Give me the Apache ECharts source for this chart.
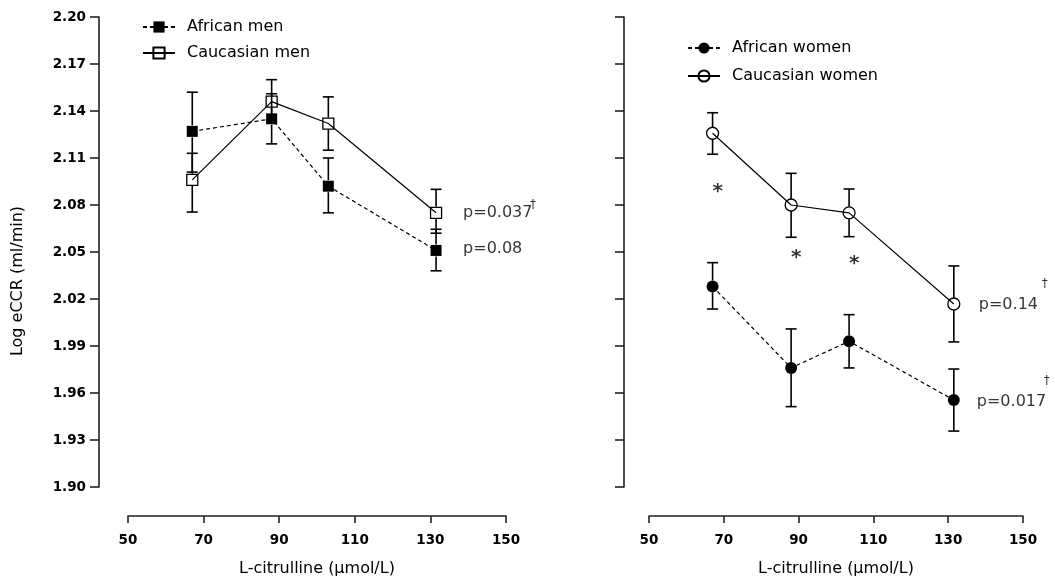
<!DOCTYPE html>
<html>
<head>
<meta charset="utf-8">
<script src="https://cdn.jsdelivr.net/npm/echarts@6/dist/echarts.min.js"></script>
<style>
html,body{margin:0;padding:0;background:#fff;}
#chart{width:1055px;height:579px;}
</style>
</head>
<body>
<div id="chart"></div>
<script>
// ---- data ----
var xTicks = [50, 70, 90, 110, 130, 150];
var yTicks = [1.90, 1.93, 1.96, 1.99, 2.02, 2.05, 2.08, 2.11, 2.14, 2.17, 2.20];

var menX = [67, 88, 103, 131.5];
var africanMenMean = [2.127, 2.135, 2.092, 2.051];
var africanMenLow  = [2.101, 2.119, 2.075, 2.038];
var africanMenHigh = [2.152, 2.151, 2.110, 2.0645];
var caucMenMean = [2.096, 2.146, 2.132, 2.075];
var caucMenLow  = [2.0755, 2.133, 2.115, 2.062];
var caucMenHigh = [2.113, 2.160, 2.149, 2.090];

var womenX = [67, 88, 103.5, 131.5];
var africanWomenMean = [2.028, 1.976, 1.993, 1.9555];
var africanWomenLow  = [2.0136, 1.9513, 1.976, 1.9357];
var africanWomenHigh = [2.0432, 2.0009, 2.010, 1.9753];
var caucWomenMean = [2.1258, 2.080, 2.075, 2.0168];
var caucWomenLow  = [2.1124, 2.0594, 2.0598, 1.9926];
var caucWomenHigh = [2.1389, 2.1002, 2.0902, 2.0411];

var sigX = [67, 88, 103.5];
var sigY = [2.091, 2.049, 2.045];

var pMen = ['p=0.037', 'p=0.08'];
var pWomen = ['p=0.14', 'p=0.017'];

// ---- build ----
var FONT = 'DejaVu Sans';
var BLACK = '#000';

function zip(xs, ys) { return xs.map(function (x, i) { return [x, ys[i]]; }); }
function zip4(xs, m, lo, hi) { return xs.map(function (x, i) { return [x, m[i], lo[i], hi[i]]; }); }

function errRender(params, api) {
  var x = api.value(0), m = api.value(1), lo = api.value(2), hi = api.value(3);
  var pm = api.coord([x, m]), pl = api.coord([x, lo]), ph = api.coord([x, hi]);
  var gap = 6, cap = 5.5;
  var st = { stroke: BLACK, lineWidth: 1.6 };
  var children = [
    { type: 'line', shape: { x1: ph[0] - cap, y1: ph[1], x2: ph[0] + cap, y2: ph[1] }, style: st },
    { type: 'line', shape: { x1: pl[0] - cap, y1: pl[1], x2: pl[0] + cap, y2: pl[1] }, style: st }
  ];
  if (pm[1] - gap > ph[1]) children.push({ type: 'line', shape: { x1: ph[0], y1: ph[1], x2: pm[0], y2: pm[1] - gap }, style: st });
  if (pm[1] + gap < pl[1]) children.push({ type: 'line', shape: { x1: pl[0], y1: pm[1] + gap, x2: pl[0], y2: pl[1] }, style: st });
  return { type: 'group', children: children };
}

function errSeries(idx, xs, m, lo, hi) {
  return {
    type: 'custom', xAxisIndex: idx, yAxisIndex: idx, renderItem: errRender,
    data: zip4(xs, m, lo, hi), encode: { x: 0, y: [1, 2, 3] }, z: 2, silent: true, clip: false
  };
}

function lineSeries(idx, name, xs, ys, symbol, filled, dashed) {
  return {
    type: 'line', name: name, xAxisIndex: idx, yAxisIndex: idx,
    data: zip(xs, ys), symbol: symbol, symbolSize: symbol === 'rect' ? 11 : 12,
    showAllSymbol: true, animation: false, z: 3,
    lineStyle: { color: BLACK, width: 1.2, type: dashed ? [4, 3] : 'solid' },
    itemStyle: { color: filled ? BLACK : 'rgba(255,255,255,0)', borderColor: BLACK, borderWidth: filled ? 0 : 1.3 }
  };
}

function textSeries(idx, items) {
  return {
    type: 'scatter', xAxisIndex: idx, yAxisIndex: idx, symbolSize: 0, silent: true, clip: false, z: 5,
    data: items.map(function (it) {
      return {
        value: it.value,
        label: {
          show: true, position: 'right', distance: 0, offset: it.offset, formatter: it.text,
          fontFamily: FONT, fontSize: it.size || 16, fontWeight: it.weight || 'normal', color: BLACK
        }
      };
    })
  };
}

var pAnn0 = textSeries(0, [
  { value: [menX[3], caucMenMean[3]], text: pMen[0], offset: [27, 0] },
  { value: [menX[3], caucMenMean[3]], text: '\u2020', offset: [94, -8], size: 12 },
  { value: [menX[3], africanMenMean[3]], text: pMen[1], offset: [27, -2] }
]);
var pAnn1 = textSeries(1, [
  { value: [womenX[3], caucWomenMean[3]], text: pWomen[0], offset: [25, 1] },
  { value: [womenX[3], caucWomenMean[3]], text: '\u2020', offset: [88, -20], size: 12 },
  { value: [womenX[3], africanWomenMean[3]], text: pWomen[1], offset: [23, 2] },
  { value: [womenX[3], africanWomenMean[3]], text: '\u2020', offset: [90, -19], size: 12 }
]);
var sigAnn = textSeries(1, sigX.map(function (x, i) {
  return { value: [x, sigY[i]], text: '*', offset: [0, 4], size: 20, weight: 'bold' };
}));

function xAxis(idx) {
  return {
    type: 'value', gridIndex: idx, min: xTicks[0], max: xTicks[xTicks.length - 1], interval: xTicks[1] - xTicks[0],
    offset: 29, position: 'bottom',
    name: 'L-citrulline (\u03bcmol/L)', nameLocation: 'middle', nameGap: 45,
    nameTextStyle: { fontFamily: FONT, fontSize: 16, color: BLACK },
    axisLine: { show: true, lineStyle: { color: '#222', width: 1.6 } },
    axisTick: { show: true, length: 7, lineStyle: { color: '#222', width: 1.6 } },
    axisLabel: { fontFamily: FONT, fontSize: 13.5, fontWeight: 'bold', color: BLACK, margin: 17 },
    splitLine: { show: false }
  };
}
function yAxis(idx, offset, showLabels) {
  return {
    type: 'value', gridIndex: idx, min: yTicks[0], max: yTicks[yTicks.length - 1], interval: 0.03,
    offset: offset, position: 'left',
    axisLine: { show: true, lineStyle: { color: '#222', width: 1.6 } },
    axisTick: { show: true, length: 9, lineStyle: { color: '#222', width: 1.6 } },
    axisLabel: { show: showLabels, fontFamily: FONT, fontSize: 13.5, fontWeight: 'bold', color: BLACK, margin: 13,
      formatter: function (v) { return v.toFixed(2); } },
    splitLine: { show: false }
  };
}

function legend(left, top, gap, names) {
  return {
    data: names, orient: 'vertical', left: left, top: top, itemWidth: 32, itemHeight: 14, itemGap: gap,
    selectedMode: false,
    textStyle: { fontFamily: FONT, fontSize: 16, color: BLACK, padding: [0, 0, 0, 7] }
  };
}

var option = {
  animation: false,
  backgroundColor: '#fff',
  grid: [
    { left: 128, top: 17, width: 378, height: 470, outerBoundsMode: 'none', containLabel: false },
    { left: 649, top: 17, width: 374, height: 470, outerBoundsMode: 'none', containLabel: false }
  ],
  xAxis: [xAxis(0), xAxis(1)],
  yAxis: [yAxis(0, 29, true), yAxis(1, 25, false)],
  legend: [
    legend(137, 14, 10, ['African men', 'Caucasian men']),
    legend(682, 35, 12, ['African women', 'Caucasian women'])
  ],
  graphic: [{
    type: 'text', x: 18, y: 281, rotation: Math.PI / 2,
    style: { text: 'Log eCCR (ml/min)', fontFamily: FONT, fontSize: 16, fill: BLACK, align: 'center', verticalAlign: 'middle' }
  }],
  series: [
    errSeries(0, menX, africanMenMean, africanMenLow, africanMenHigh),
    errSeries(0, menX, caucMenMean, caucMenLow, caucMenHigh),
    lineSeries(0, 'African men', menX, africanMenMean, 'rect', true, true),
    lineSeries(0, 'Caucasian men', menX, caucMenMean, 'rect', false, false),
    errSeries(1, womenX, africanWomenMean, africanWomenLow, africanWomenHigh),
    errSeries(1, womenX, caucWomenMean, caucWomenLow, caucWomenHigh),
    lineSeries(1, 'African women', womenX, africanWomenMean, 'circle', true, true),
    lineSeries(1, 'Caucasian women', womenX, caucWomenMean, 'circle', false, false),
    pAnn0, pAnn1, sigAnn
  ]
};

var chart = echarts.init(document.getElementById('chart'), null, { renderer: 'canvas' });
chart.setOption(option);
</script>
</body>
</html>
